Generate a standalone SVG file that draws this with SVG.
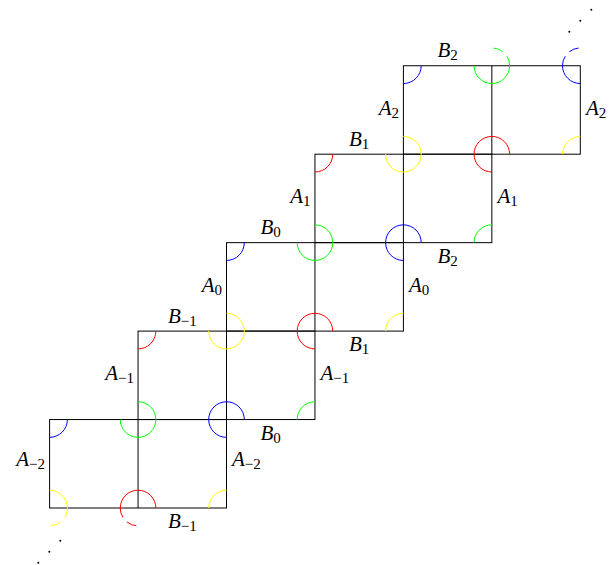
<svg xmlns="http://www.w3.org/2000/svg" width="610" height="565" viewBox="0 0 610 565">
<style>
.sq{fill:none;stroke:#000;stroke-width:1}
.arc{fill:none;stroke-width:1}
.dash{stroke-dasharray:10 6}
.b{stroke:#0000ff}.g{stroke:#00ff00}.r{stroke:#ff0000}.y{stroke:#ffff00}
.s{font-size:15px;font-style:normal}
</style>
<rect width="610" height="565" fill="#fff"/>
<g id="squares">
<g id="row0"><rect class="sq" x="49.6" y="419.55" width="176.9" height="88.45"/><line class="sq" x1="138.05" y1="419.55" x2="138.05" y2="508"/></g>
<g id="row1"><rect class="sq" x="138.05" y="331.1" width="176.9" height="88.45"/><line class="sq" x1="226.5" y1="331.1" x2="226.5" y2="419.55"/></g>
<g id="row2"><rect class="sq" x="226.5" y="242.65" width="176.9" height="88.45"/><line class="sq" x1="314.95" y1="242.65" x2="314.95" y2="331.1"/></g>
<g id="row3"><rect class="sq" x="314.95" y="154.2" width="176.9" height="88.45"/><line class="sq" x1="403.4" y1="154.2" x2="403.4" y2="242.65"/></g>
<g id="row4"><rect class="sq" x="403.4" y="65.75" width="176.9" height="88.45"/><line class="sq" x1="491.85" y1="65.75" x2="491.85" y2="154.2"/></g>
</g>
<g id="arcs">
<path class="arc y" d="M67.4 508A17.8 17.8 0 0 0 49.6 490.2"/>
<path class="arc y dash" d="M67.4 508A17.8 17.8 0 0 1 49.6 525.8"/>
<path class="arc r" d="M155.85 508A17.8 17.8 0 0 0 120.25 508"/>
<path class="arc r dash" d="M120.25 508A17.8 17.8 0 0 0 138.05 525.8"/>
<path class="arc y" d="M226.5 490.2A17.8 17.8 0 0 0 208.7 508"/>

<path class="arc b" d="M49.6 437.35A17.8 17.8 0 0 0 67.4 419.55"/>
<path class="arc g" d="M120.25 419.55A17.8 17.8 0 1 0 138.05 401.75"/>
<path class="arc b" d="M244.3 419.55A17.8 17.8 0 1 0 226.5 437.35"/>
<path class="arc g" d="M314.95 401.75A17.8 17.8 0 0 0 297.15 419.55"/>

<path class="arc r" d="M138.05 348.9A17.8 17.8 0 0 0 155.85 331.1"/>
<path class="arc y" d="M208.7 331.1A17.8 17.8 0 1 0 226.5 313.3"/>
<path class="arc r" d="M332.75 331.1A17.8 17.8 0 1 0 314.95 348.9"/>
<path class="arc y" d="M403.4 313.3A17.8 17.8 0 0 0 385.6 331.1"/>

<path class="arc b" d="M226.5 260.45A17.8 17.8 0 0 0 244.3 242.65"/>
<path class="arc g" d="M297.15 242.65A17.8 17.8 0 1 0 314.95 224.85"/>
<path class="arc b" d="M421.2 242.65A17.8 17.8 0 1 0 403.4 260.45"/>
<path class="arc g" d="M491.85 224.85A17.8 17.8 0 0 0 474.05 242.65"/>

<path class="arc r" d="M314.95 172A17.8 17.8 0 0 0 332.75 154.2"/>
<path class="arc y" d="M385.6 154.2A17.8 17.8 0 1 0 403.4 136.4"/>
<path class="arc r" d="M509.65 154.2A17.8 17.8 0 1 0 491.85 172"/>
<path class="arc y" d="M580.3 136.4A17.8 17.8 0 0 0 562.5 154.2"/>

<path class="arc b" d="M403.4 83.55A17.8 17.8 0 0 0 421.2 65.75"/>
<path class="arc g" d="M474.05 65.75A17.8 17.8 0 0 0 509.65 65.75"/>
<path class="arc g dash" d="M509.65 65.75A17.8 17.8 0 0 0 491.85 47.95"/>
<path class="arc b" d="M562.5 65.75A17.8 17.8 0 0 0 580.3 83.55"/>
<path class="arc b dash" d="M562.5 65.75A17.8 17.8 0 0 1 580.3 47.95"/>
</g>
<g id="dots" fill="#000">
<circle cx="60.3" cy="540.7" r="1"/><circle cx="49.3" cy="551.7" r="1"/><circle cx="38.3" cy="562.7" r="1"/>
<circle cx="569.3" cy="31.7" r="1"/><circle cx="580.3" cy="20.7" r="1"/><circle cx="591.3" cy="9.7" r="1"/>
</g>
<g id="labels" font-family="'Liberation Serif', 'DejaVu Serif', serif" font-size="21" font-style="italic" fill="#000">
<text x="45" y="465.5" text-anchor="end">A<tspan class="s" dy="3">−2</tspan></text>
<text x="232" y="465.5">A<tspan class="s" dy="3">−2</tspan></text>
<text x="182.3" y="528" text-anchor="middle">B<tspan class="s" dy="3">−1</tspan></text>

<text x="134" y="380" text-anchor="end">A<tspan class="s" dy="3">−1</tspan></text>
<text x="320.5" y="380">A<tspan class="s" dy="3">−1</tspan></text>
<text x="182.3" y="322.7" text-anchor="middle">B<tspan class="s" dy="3">−1</tspan></text>
<text x="270.7" y="439.5" text-anchor="middle">B<tspan class="s" dy="3">0</tspan></text>

<text x="222" y="291.5" text-anchor="end">A<tspan class="s" dy="3">0</tspan></text>
<text x="409" y="291.5">A<tspan class="s" dy="3">0</tspan></text>
<text x="270.7" y="234.2" text-anchor="middle">B<tspan class="s" dy="3">0</tspan></text>
<text x="359.2" y="351" text-anchor="middle">B<tspan class="s" dy="3">1</tspan></text>

<text x="310.5" y="203" text-anchor="end">A<tspan class="s" dy="3">1</tspan></text>
<text x="497.5" y="203">A<tspan class="s" dy="3">1</tspan></text>
<text x="359.2" y="145.7" text-anchor="middle">B<tspan class="s" dy="3">1</tspan></text>
<text x="447.6" y="262.5" text-anchor="middle">B<tspan class="s" dy="3">2</tspan></text>

<text x="399" y="114.5" text-anchor="end">A<tspan class="s" dy="3">2</tspan></text>
<text x="586" y="114.5">A<tspan class="s" dy="3">2</tspan></text>
<text x="447.6" y="57.2" text-anchor="middle">B<tspan class="s" dy="3">2</tspan></text>
</g>
</svg>
